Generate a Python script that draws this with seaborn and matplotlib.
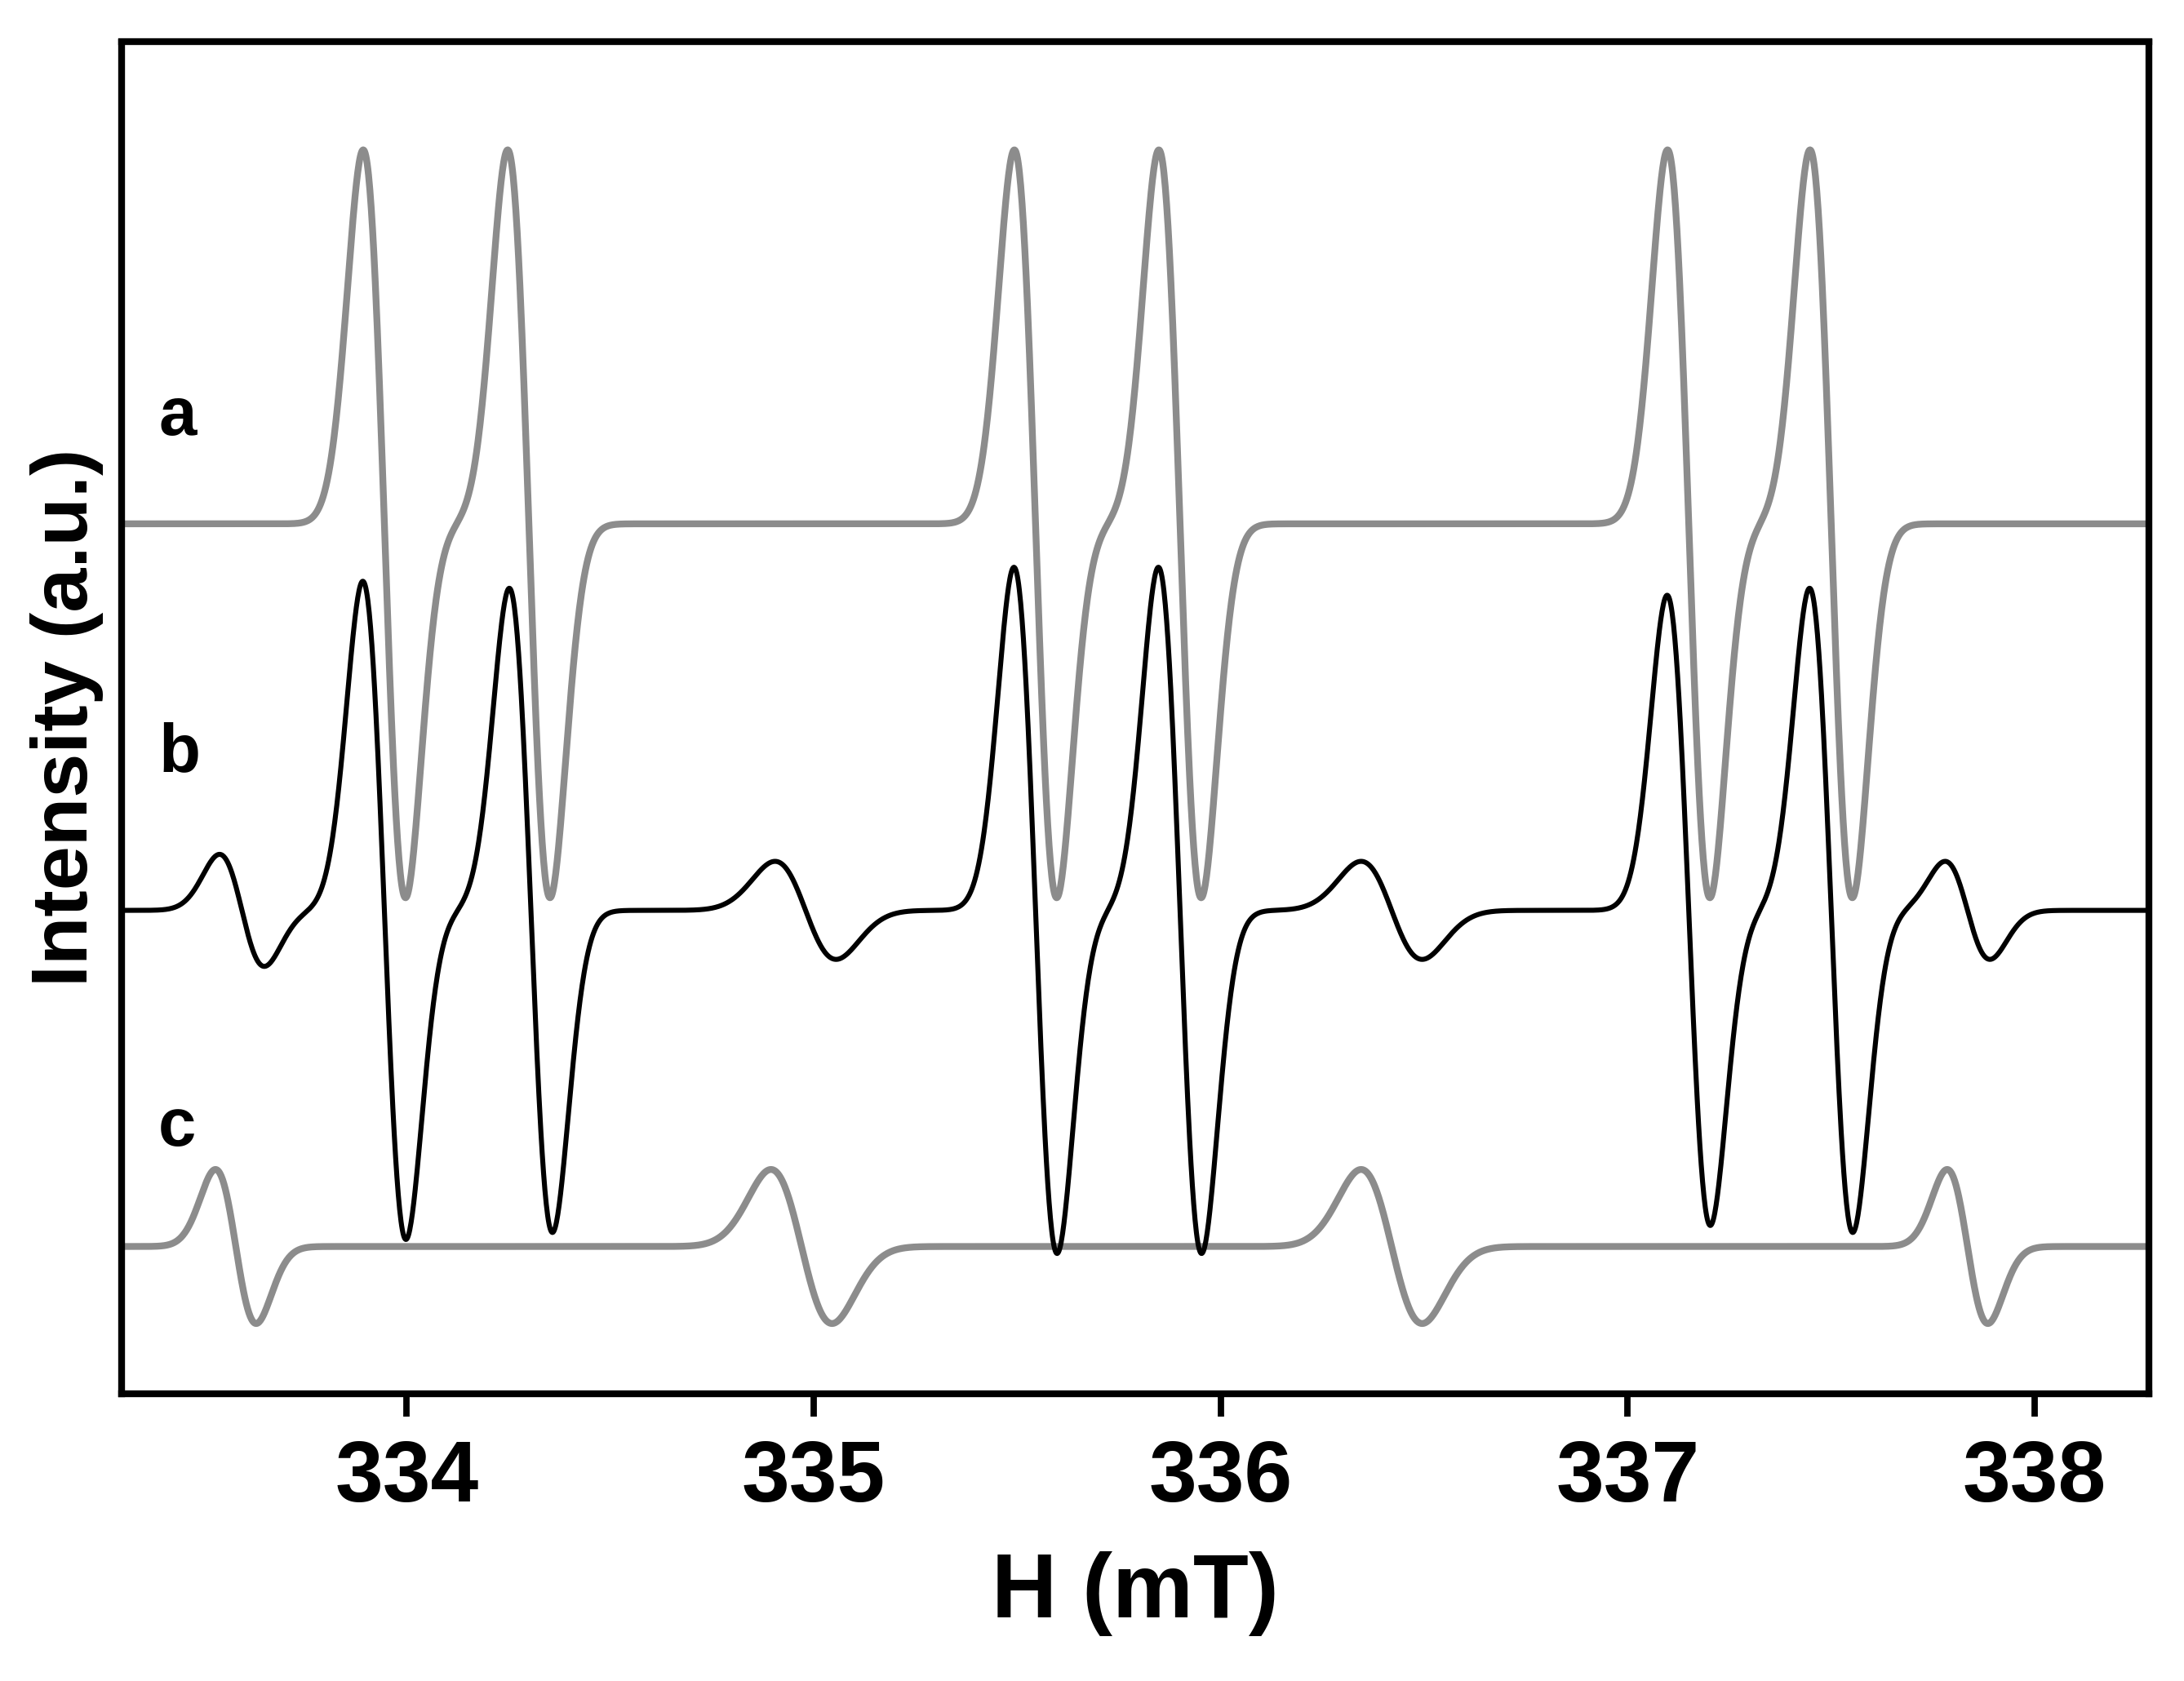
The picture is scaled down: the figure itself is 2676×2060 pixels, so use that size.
import numpy as np
import pandas as pd
import matplotlib
matplotlib.use("Agg")
import matplotlib.pyplot as plt
import seaborn as sns

sns.set_theme(style="white")
plt.rcParams['font.family'] = ['Liberation Sans', 'DejaVu Sans']
plt.rcParams['text.color'] = 'black'
plt.rcParams['axes.labelcolor'] = 'black'
plt.rcParams['xtick.color'] = 'black'

# Line parameters (field in mT)
a_centers = [333.945, 334.30, 335.545, 335.90, 337.15, 337.50]
a_amps = [267, 267, 267, 267, 267, 267]
a_widths = [0.052, 0.052, 0.052, 0.052, 0.052, 0.052]
a_offset = 826

b_centers = [333.945, 334.305, 335.545, 335.90, 337.15, 337.50, 333.595, 334.98, 336.42, 337.835]
b_amps = [235, 230, 245, 245, 225, 230, 40, 35, 35, 35]
b_widths = [0.053, 0.053, 0.053, 0.053, 0.053, 0.053, 0.055, 0.075, 0.075, 0.055]
b_offset = 550

c_centers = [333.58, 334.97, 336.42, 337.835]
c_amps = [55, 55, 55, 55]
c_widths = [0.05, 0.075, 0.075, 0.05]
c_offset = 310

field = np.linspace(333.30, 338.28, 3000)

def spectrum(centers, amps, widths, offset):
    y = np.full_like(field, offset, dtype=float)
    for c, A, s in zip(centers, amps, widths):
        u = (field - c) / s
        y += -A * u * np.exp(0.5 - 0.5 * u ** 2)
    return y

df = pd.DataFrame({
    "H": np.tile(field, 3),
    "I": np.concatenate([spectrum(a_centers, a_amps, a_widths, a_offset),
                         spectrum(b_centers, b_amps, b_widths, b_offset),
                         spectrum(c_centers, c_amps, c_widths, c_offset)]),
    "s": np.repeat(["a", "b", "c"], len(field)),
})

fig = plt.figure(figsize=(13.38, 10.3), dpi=200)
ax = fig.add_axes([0.0558, 0.171, 0.928, 0.804])
sns.lineplot(data=df[df.s != "b"], x="H", y="I", hue="s", palette={"a": "#8c8c8c", "c": "#8c8c8c"},
             linewidth=3.0, legend=False, ax=ax, estimator=None)
sns.lineplot(data=df[df.s == "b"], x="H", y="I", color="black",
             linewidth=2.2, legend=False, ax=ax, estimator=None)
ax.set_xlim(333.30, 338.28)
ax.set_ylim(205, 1170)
ax.set_xticks([334, 335, 336, 337, 338])
ax.set_xticklabels(["334", "335", "336", "337", "338"], fontsize=38, fontweight="bold")
ax.set_yticks([])
ax.tick_params(axis="x", direction="out", length=10, width=2.8, bottom=True, pad=10)
ax.set_xlabel("H (mT)", fontsize=40, fontweight="bold", labelpad=14)
ax.set_ylabel("Intensity (a.u.)", fontsize=35, fontweight="bold", labelpad=8)
for sp in ax.spines.values():
    sp.set_linewidth(3.0)
    sp.set_color("black")
for lab, yv in [("a", 902), ("b", 662), ("c", 395)]:
    ax.text(333.39, yv, lab, fontsize=30, fontweight="bold", va="center")
fig.savefig("out.png", dpi=200)
